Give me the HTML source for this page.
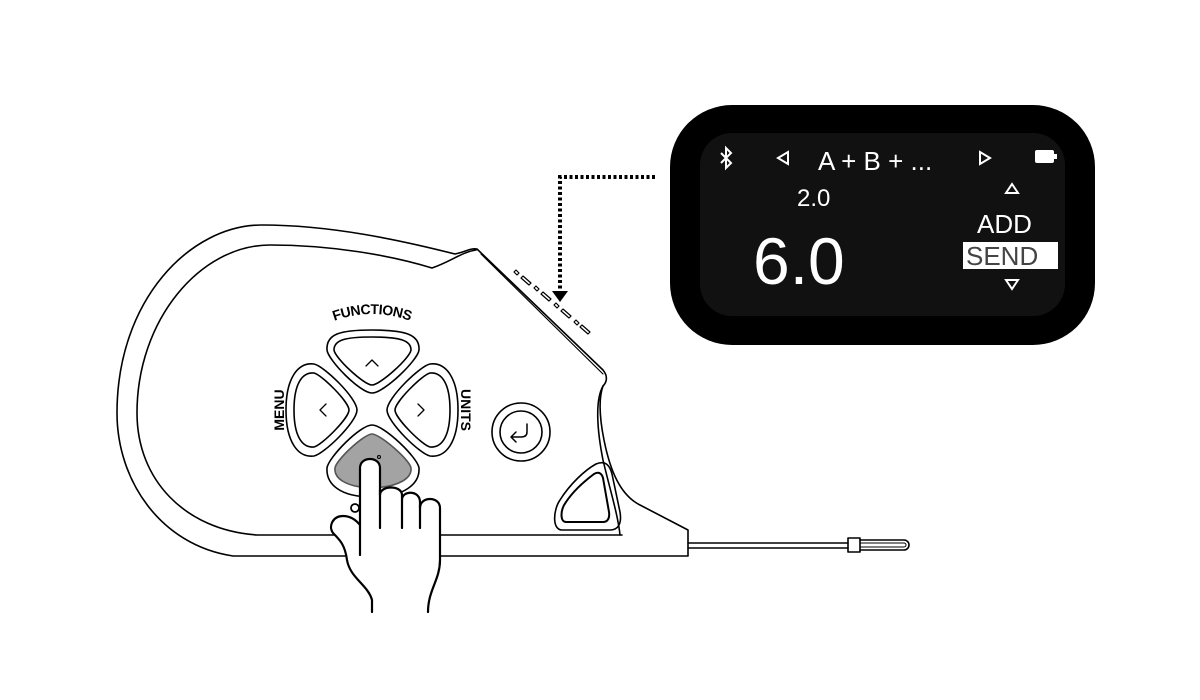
<!DOCTYPE html>
<html><head><meta charset="utf-8"><style>
html,body{margin:0;padding:0;background:#fff;}
svg{display:block;}
text{font-family:"Liberation Sans",Arial,sans-serif;}
</style></head><body>
<svg width="1200" height="700" viewBox="0 0 1200 700" xmlns="http://www.w3.org/2000/svg">
<rect width="1200" height="700" fill="#fff"/>
<g fill="none" stroke="#000" stroke-width="1.6" stroke-linejoin="round" stroke-linecap="round">
<!-- outer body -->
<path d="M688,556 L233,556 C160,545 117,480 117,413 C117,300 190,225 262,225 C330,225 400,240 455,254 C465,252 470,248 477,249 L603,370 C608,376 607,382 603,386 C598,400 600,420 604,440 C610,470 620,495 640,505 L688,530 Z" fill="#fff"/>
<path d="M481,254 L603,374" stroke-width="1.2"/>
<!-- inner body -->
<path d="M622,535 L257,535 C185,530 137,480 137,413 C137,320 200,245 270,245 C330,245 390,255 432,268 C450,262 462,252 476,250"/>
<path d="M603,386 C595,400 597,430 603,460 C610,490 618,515 620,535"/>
<!-- top edge small features -->
<g stroke-width="1.2">
<path d="M514,272 l2,-2 l3,3 l-2,2 Z"/>
<path d="M521,278 l2,-2 l8,7 l-2,2 Z"/>
<path d="M534,288 l2,-2 l3,3 l-2,2 Z"/>
<path d="M541,294 l2,-2 l8,7 l-2,2 Z"/>
<path d="M554,305 l2,-2 l3,3 l-2,2 Z"/>
<path d="M561,311 l2,-2 l8,7 l-2,2 Z"/>
<path d="M574,322 l2,-2 l3,3 l-2,2 Z"/>
<path d="M580,327 l2,-2 l8,7 l-2,2 Z"/>
</g>
<!-- D-pad up -->
<path d="M372,393 C360,393 328,360 327,350 C326,334 340,330 372,330 C404,330 420,334 419,350 C418,360 384,393 372,393 Z"/>
<path d="M372,385 C364,385 335,358 334,350 C334,340 345,337 372,337 C399,337 411,340 411,350 C410,358 380,385 372,385 Z"/>
<path d="M366,366 L372,360 L378,366" stroke-width="1.3"/>
<!-- down -->
<path d="M372,425 C360,425 328,458 327,468 C326,484 340,497 372,497 C404,497 420,484 419,468 C418,458 384,425 372,425 Z"/>
<path d="M372,434 C364,434 336,460 335,468 C334,478 345,487 372,488 C399,487 412,478 411,468 C410,460 380,434 372,434 Z" fill="#a3a3a3" stroke="#555"/>
<!-- left -->
<path d="M357,410 C357,398 324,366 314,364 C298,362 286,378 286,410 C286,442 298,458 314,456 C324,454 357,422 357,410 Z"/>
<path d="M349,410 C349,402 322,375 314,373 C302,372 294,384 294,410 C294,436 302,448 314,447 C322,445 349,418 349,410 Z"/>
<path d="M326,404 L320,410 L326,416" stroke-width="1.3"/>
<!-- right -->
<path d="M387,410 C387,398 420,366 430,364 C446,362 458,378 458,410 C458,442 446,458 430,456 C420,454 387,422 387,410 Z"/>
<path d="M395,410 C395,402 422,375 430,373 C442,372 450,384 450,410 C450,436 442,448 430,447 C422,445 395,418 395,410 Z"/>
<path d="M418,404 L424,410 L418,416" stroke-width="1.3"/>
<!-- enter -->
<circle cx="521" cy="432" r="29"/>
<circle cx="521" cy="432" r="21"/>
<path d="M527,424 L527,432 C527,436 524,437 521,437 L512,437 M516,432 L511,437 L516,442" stroke-width="1.5"/>
<!-- triangle button -->
<path d="M562,530 C552,530 553,510 560,500 C570,484 585,470 596,464 C606,460 610,466 612,474 L620,512 C622,524 618,530 610,530 Z"/>
<path d="M566,522 C560,522 560,510 566,502 C574,490 586,480 594,474 C599,471 602,474 603,478 L609,512 C610,519 607,522 603,522 Z" stroke-width="2"/>
<!-- tape -->
<path d="M688,543 L848,543 M688,548 L848,548"/>
<path d="M848,538 L860,538 L860,552 L848,552 Z"/>
<path d="M860,540 L904,540 A5,5 0 0 1 904,550 L860,550"/>
<path d="M860,543 L904,543 A2,2 0 0 1 904,547 L860,547" stroke-width="1"/>
</g>
<!-- hand -->
<path d="M372,612 L372,600 C368,585 350,578 347,560 C345,545 340,540 333,533 C328,526 333,516 343,516 C350,516 356,520 360,525 L360,468 C360,456 380,456 380,468 L380,495 C380,485 402,485 402,495 L402,500 C402,490 420,490 420,502 L420,508 C420,496 440,496 440,508 L440,560 C440,580 428,590 428,612 Z" fill="#fff" stroke="none"/>
<g fill="none" stroke="#000" stroke-width="2.2" stroke-linejoin="round" stroke-linecap="round">
<path d="M372,612 L372,600 C368,585 350,578 347,560 C345,545 340,540 333,533 C328,526 333,516 343,516 C350,516 356,520 360,525 L360,468 C360,456 380,456 380,468 L380,495 C380,485 402,485 402,495 L402,500 C402,490 420,490 420,502 L420,508 C420,496 440,496 440,508 L440,560 C440,580 428,590 428,612"/>
<path d="M380,490 L380,528 M402,500 L402,528 M420,505 L420,528"/>
<path d="M360,525 L360,555"/>
<circle cx="355" cy="508" r="4" stroke-width="1.8" fill="#fff"/>
<circle cx="379" cy="457" r="1.5" stroke-width="1" fill="#999"/>
</g>
<!-- labels -->
<defs><path id="arc" d="M318,328 Q372,300 426,328"/></defs>
<text font-size="14" font-weight="bold" text-anchor="middle" letter-spacing="-0.5"><textPath href="#arc" startOffset="50%">FUNCTIONS</textPath></text>
<text font-size="14" font-weight="bold" text-anchor="middle" transform="translate(284,410) rotate(-90)">MENU</text>
<text font-size="14" font-weight="bold" text-anchor="middle" transform="translate(461,410) rotate(90)">UNITS</text>
<!-- dotted connector -->
<path d="M655,177 L560,177 L560,290" fill="none" stroke="#000" stroke-width="4" stroke-dasharray="3,2.5"/>
<path d="M552,291 L568,291 L560,302 Z" fill="#000"/>
<!-- screen -->
<rect x="670" y="105" width="425" height="240" rx="62" fill="#000"/>
<rect x="700" y="133" width="365" height="183" rx="32" fill="#111"/>
<path d="M721,153 L731,163 L726,168 L726,148 L731,153 L721,163" fill="none" stroke="#fff" stroke-width="2"/>
<g fill="#fff">
<path d="M778,158 L788,152 L788,164 Z" fill="none" stroke="#fff" stroke-width="2"/>
<text x="818" y="170" font-size="26">A + B + ...</text>
<path d="M990,158 L980,152 L980,164 Z" fill="none" stroke="#fff" stroke-width="2"/>
<rect x="1035" y="150" width="19" height="13" rx="2"/>
<rect x="1054" y="154" width="3" height="5"/>
<text x="797" y="206" font-size="24">2.0</text>
<text x="753" y="284" font-size="66">6.0</text>
<path d="M1012,184 L1018,193 L1006,193 Z" fill="none" stroke="#fff" stroke-width="2"/>
<text x="977" y="233" font-size="26">ADD</text>
<rect x="963" y="242" width="95" height="27"/>
<text x="966" y="265" font-size="26" fill="#444">SEND</text>
<path d="M1012,289 L1018,280 L1006,280 Z" fill="none" stroke="#fff" stroke-width="2"/>
</g>
</svg>
</body></html>
